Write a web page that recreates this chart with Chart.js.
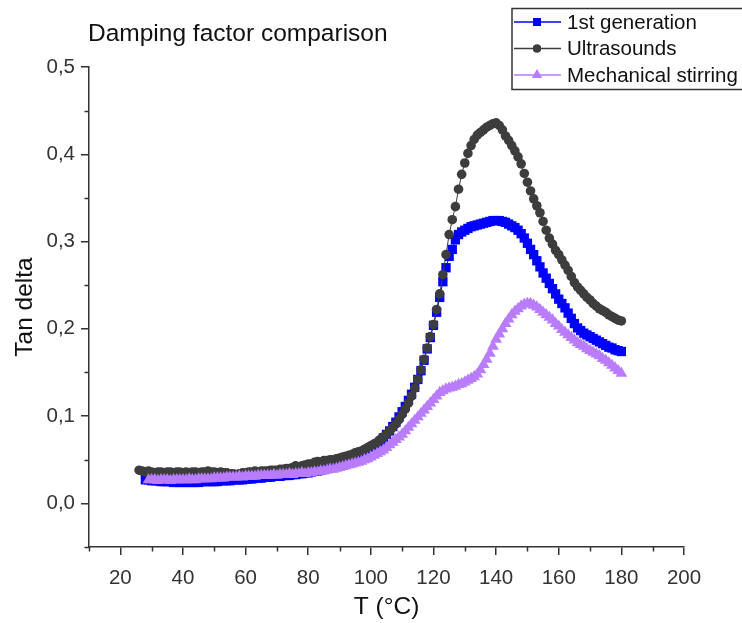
<!DOCTYPE html>
<html>
<head>
<meta charset="utf-8">
<title>Damping factor comparison</title>
<script src="https://cdn.jsdelivr.net/npm/chart.js"></script>
<style>
  html, body { margin: 0; padding: 0; background: #fff; }
  #chart { display: block; }
</style>
</head>
<body>
<canvas id="chart" width="742" height="623"></canvas>
<script>
// temperatures (°C), one reading per degree
const temps = [
  26, 27, 28, 29, 30, 31, 32, 33, 34, 35, 36, 37, 38, 39, 40, 41, 42, 43, 44, 45,
  46, 47, 48, 49, 50, 51, 52, 53, 54, 55, 56, 57, 58, 59, 60, 61, 62, 63, 64, 65,
  66, 67, 68, 69, 70, 71, 72, 73, 74, 75, 76, 77, 78, 79, 80, 81, 82, 83, 84, 85,
  86, 87, 88, 89, 90, 91, 92, 93, 94, 95, 96, 97, 98, 99, 100, 101, 102, 103, 104, 105,
  106, 107, 108, 109, 110, 111, 112, 113, 114, 115, 116, 117, 118, 119, 120, 121, 122, 123, 124, 125,
  126, 127, 128, 129, 130, 131, 132, 133, 134, 135, 136, 137, 138, 139, 140, 141, 142, 143, 144, 145,
  146, 147, 148, 149, 150, 151, 152, 153, 154, 155, 156, 157, 158, 159, 160, 161, 162, 163, 164, 165,
  166, 167, 168, 169, 170, 171, 172, 173, 174, 175, 176, 177, 178, 179, 180
];

const firstGeneration = [
  null, null, 0.027, 0.027, 0.026, 0.026, 0.026, 0.025, 0.025, 0.025, 0.025, 0.024, 0.024, 0.024, 0.024, 0.024, 0.024, 0.024, 0.024, 0.024,
  0.025, 0.025, 0.025, 0.025, 0.025, 0.025, 0.026, 0.026, 0.026, 0.026, 0.027, 0.027, 0.027, 0.027, 0.028, 0.028, 0.028, 0.029, 0.029, 0.029,
  0.030, 0.030, 0.030, 0.031, 0.031, 0.031, 0.032, 0.032, 0.032, 0.033, 0.033, 0.034, 0.034, 0.035, 0.035, 0.036, 0.037, 0.037, 0.038, 0.039,
  0.040, 0.041, 0.042, 0.043, 0.044, 0.045, 0.046, 0.048, 0.049, 0.051, 0.053, 0.055, 0.057, 0.059, 0.062, 0.065, 0.068, 0.071, 0.075, 0.079,
  0.083, 0.088, 0.093, 0.099, 0.105, 0.111, 0.118, 0.125, 0.133, 0.142, 0.152, 0.164, 0.177, 0.190, 0.204, 0.219, 0.236, 0.254, 0.270, 0.283,
  0.291, 0.302, 0.308, 0.311, 0.313, 0.315, 0.317, 0.318, 0.319, 0.320, 0.321, 0.322, 0.323, 0.324, 0.324, 0.324, 0.323, 0.322, 0.320, 0.318,
  0.316, 0.313, 0.309, 0.304, 0.298, 0.291, 0.285, 0.278, 0.271, 0.264, 0.258, 0.252, 0.246, 0.240, 0.234, 0.229, 0.224, 0.218, 0.212, 0.206,
  0.201, 0.198, 0.195, 0.193, 0.191, 0.189, 0.187, 0.185, 0.183, 0.181, 0.179, 0.178, 0.176, 0.175, 0.174
];

const ultrasounds = [
  0.038, 0.037, 0.036, 0.037, 0.036, 0.035, 0.036, 0.036, 0.035, 0.036, 0.036, 0.035, 0.036, 0.036, 0.035, 0.036, 0.035, 0.036, 0.036, 0.035,
  0.036, 0.036, 0.037, 0.036, 0.036, 0.035, 0.036, 0.035, 0.035, 0.034, 0.034, 0.033, 0.034, 0.035, 0.035, 0.036, 0.036, 0.037, 0.036, 0.037,
  0.037, 0.037, 0.038, 0.038, 0.038, 0.039, 0.039, 0.040, 0.040, 0.041, 0.043, 0.042, 0.043, 0.044, 0.045, 0.045, 0.047, 0.048, 0.047, 0.049,
  0.049, 0.050, 0.050, 0.051, 0.052, 0.053, 0.054, 0.055, 0.056, 0.058, 0.059, 0.060, 0.062, 0.064, 0.066, 0.068, 0.070, 0.073, 0.076, 0.079,
  0.083, 0.087, 0.091, 0.096, 0.102, 0.108, 0.115, 0.123, 0.132, 0.142, 0.153, 0.165, 0.178, 0.191, 0.205, 0.222, 0.240, 0.262, 0.285, 0.308,
  0.325, 0.340, 0.360, 0.377, 0.390, 0.401, 0.410, 0.417, 0.422, 0.425, 0.428, 0.431, 0.433, 0.435, 0.436, 0.433, 0.428, 0.421, 0.416, 0.410,
  0.404, 0.397, 0.389, 0.378, 0.368, 0.358, 0.349, 0.341, 0.333, 0.323, 0.313, 0.304, 0.297, 0.290, 0.285, 0.279, 0.273, 0.267, 0.260, 0.253,
  0.248, 0.244, 0.240, 0.236, 0.233, 0.229, 0.226, 0.223, 0.221, 0.219, 0.216, 0.214, 0.212, 0.210, 0.209
];

const mechanicalStirring = [
  null, null, null, 0.027, 0.027, 0.027, 0.026, 0.027, 0.027, 0.027, 0.026, 0.027, 0.027, 0.027, 0.027, 0.027, 0.028, 0.027, 0.027, 0.028,
  0.028, 0.028, 0.028, 0.028, 0.029, 0.029, 0.029, 0.029, 0.030, 0.030, 0.030, 0.030, 0.031, 0.030, 0.031, 0.031, 0.031, 0.031, 0.032, 0.032,
  0.032, 0.032, 0.032, 0.033, 0.032, 0.033, 0.033, 0.033, 0.034, 0.033, 0.034, 0.034, 0.035, 0.034, 0.035, 0.035, 0.036, 0.036, 0.037, 0.037,
  0.038, 0.039, 0.039, 0.040, 0.041, 0.042, 0.043, 0.044, 0.045, 0.046, 0.047, 0.048, 0.050, 0.051, 0.053, 0.055, 0.057, 0.059, 0.061, 0.064,
  0.067, 0.070, 0.073, 0.076, 0.079, 0.083, 0.087, 0.091, 0.095, 0.099, 0.103, 0.107, 0.111, 0.115, 0.119, 0.123, 0.127, 0.129, 0.131, 0.132,
  0.133, 0.134, 0.136, 0.137, 0.139, 0.141, 0.143, 0.145, 0.148, 0.153, 0.159, 0.165, 0.172, 0.180, 0.188, 0.194, 0.200, 0.206, 0.211, 0.216,
  0.220, 0.223, 0.226, 0.228, 0.229, 0.229, 0.227, 0.225, 0.222, 0.219, 0.216, 0.213, 0.210, 0.206, 0.203, 0.199, 0.196, 0.193, 0.190, 0.187,
  0.184, 0.182, 0.180, 0.177, 0.175, 0.173, 0.171, 0.169, 0.166, 0.164, 0.161, 0.158, 0.155, 0.152, 0.149
];

const xTicks = [20, 40, 60, 80, 100, 120, 140, 160, 180, 200];
const xMinorTicks = [10, 30, 50, 70, 90, 110, 130, 150, 170, 190];
const yTicks = [0, 0.1, 0.2, 0.3, 0.4, 0.5];
const yTickLabels = ["0,0", "0,1", "0,2", "0,3", "0,4", "0,5"];
const yMinorTicks = [-0.05, 0.05, 0.15, 0.25, 0.35, 0.45];

const seriesNames = ["1st generation", "Ultrasounds", "Mechanical stirring"];
const seriesColors = ["#0000ff", "#3d3d3d", "#b87cfc"];
const seriesMarkers = ["rect", "circle", "triangle"];
const markerSizes = [6.6, 4.8, 6.8];

const FONT = '"Liberation Sans", Arial, sans-serif';
const AXIS = "#333333";

function toPoints(values) {
  return temps
    .map((t, i) => ({ x: t, y: values[i] }))
    .filter((p) => p.y !== null);
}

// title, legend box and the minor ticks
const decorPlugin = {
  id: "decor",
  afterDraw(chart) {
    const { ctx, scales } = chart;
    const x = scales.x, y = scales.y;
    ctx.save();

    ctx.strokeStyle = AXIS;
    ctx.lineWidth = 1.5;
    ctx.beginPath();
    xMinorTicks.forEach((v) => {
      const px = Math.round(x.getPixelForValue(v)) + 0.5;
      ctx.moveTo(px, x.top);
      ctx.lineTo(px, x.top + 4.5);
    });
    yMinorTicks.forEach((v) => {
      const py = Math.round(y.getPixelForValue(v)) + 0.5;
      ctx.moveTo(y.right, py);
      ctx.lineTo(y.right - 4.5, py);
    });
    ctx.stroke();

    ctx.fillStyle = "#111";
    ctx.font = "24.5px " + FONT;
    ctx.textBaseline = "alphabetic";
    ctx.textAlign = "left";
    ctx.fillText("Damping factor comparison", 88, 41);

    // legend
    ctx.fillStyle = "#fff";
    ctx.fillRect(512, 8, 240, 81);
    ctx.strokeStyle = AXIS;
    ctx.lineWidth = 1.5;
    ctx.strokeRect(512, 8.5, 240, 81);
    const rows = [22, 48.5, 75];
    ctx.font = "20.5px " + FONT;
    ctx.textBaseline = "middle";
    seriesNames.forEach((name, i) => {
      const cy = rows[i];
      ctx.strokeStyle = seriesColors[i];
      ctx.fillStyle = seriesColors[i];
      ctx.lineWidth = 1.5;
      ctx.beginPath();
      ctx.moveTo(514, cy);
      ctx.lineTo(561, cy);
      ctx.stroke();
      Chart.helpers.drawPoint(ctx, {
        pointStyle: seriesMarkers[i],
        radius: markerSizes[i] * 0.85,
        rotation: 0,
        borderWidth: 0
      }, 537, cy);
      ctx.fill();
      ctx.fillStyle = "#111";
      ctx.fillText(name, 567, cy + 1);
    });

    ctx.restore();
  }
};

const seriesValues = [firstGeneration, ultrasounds, mechanicalStirring];

const datasets = seriesValues.map((vals, i) => ({
  label: seriesNames[i],
  data: toPoints(vals),
  borderColor: seriesColors[i],
  backgroundColor: seriesColors[i],
  borderWidth: 1,
  pointStyle: seriesMarkers[i],
  pointRadius: markerSizes[i],
  pointBorderWidth: 0,
  pointBackgroundColor: seriesColors[i],
  pointBorderColor: seriesColors[i],
  tension: 0,
  order: 3 - i
}));

new Chart(document.getElementById("chart"), {
  type: "line",
  data: { datasets: datasets },
  options: {
    responsive: false,
    animation: false,
    devicePixelRatio: 1,
    layout: { padding: { top: 67, right: 58, left: 0, bottom: 0 } },
    plugins: {
      legend: { display: false },
      title: { display: false },
      tooltip: { enabled: false }
    },
    scales: {
      x: {
        type: "linear",
        min: 10,
        max: 200,
        afterBuildTicks: (s) => { s.ticks = xTicks.map((v) => ({ value: v })); },
        afterFit: (s) => { s.height = 76; },
        ticks: {
          color: AXIS,
          font: { family: FONT, size: 20.5 },
          padding: 11,
          maxRotation: 0,
          autoSkip: false
        },
        grid: {
          display: true,
          drawOnChartArea: false,
          drawTicks: true,
          tickLength: 8,
          color: AXIS,
          lineWidth: 1.5
        },
        border: { display: true, color: AXIS, width: 1.5 },
        title: {
          display: true,
          text: "T (°C)",
          color: "#111",
          font: { family: FONT, size: 24.5 },
          padding: { top: 0, bottom: 1 }
        }
      },
      y: {
        type: "linear",
        min: -0.05,
        max: 0.5,
        afterBuildTicks: (s) => { s.ticks = yTicks.map((v) => ({ value: v })); },
        afterFit: (s) => { s.width = 89; },
        ticks: {
          color: AXIS,
          font: { family: FONT, size: 20.5 },
          padding: 6,
          autoSkip: false,
          callback: (v, i) => yTickLabels[i]
        },
        grid: {
          display: true,
          drawOnChartArea: false,
          drawTicks: true,
          tickLength: 8,
          color: AXIS,
          lineWidth: 1.5
        },
        border: { display: true, color: AXIS, width: 1.5 },
        title: {
          display: true,
          text: "Tan delta",
          color: "#111",
          font: { family: FONT, size: 24.5 },
          padding: { top: 11, bottom: 0 }
        }
      }
    }
  },
  plugins: [decorPlugin]
});
</script>
</body>
</html>
